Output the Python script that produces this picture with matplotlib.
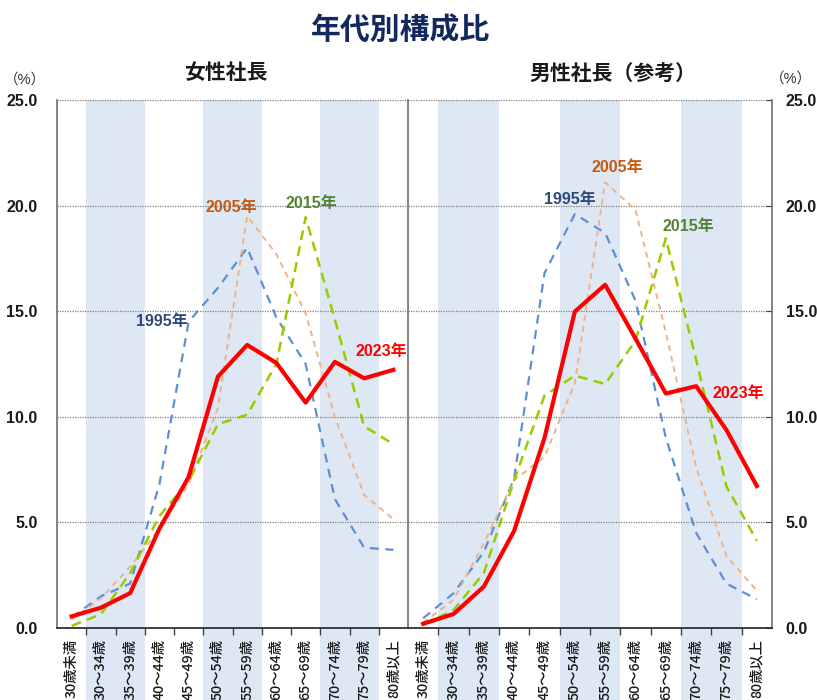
import numpy as np
import matplotlib
matplotlib.use("Agg")
import matplotlib.pyplot as plt

plt.rcParams['font.family'] = ['Liberation Sans', 'Noto Sans CJK JP', 'DejaVu Sans']

# ==========================
# データ
# ==========================
age_labels = ["30歳未満", "30～34歳", "35～39歳", "40～44歳", "45～49歳", "50～54歳",
              "55～59歳", "60～64歳", "65～69歳", "70～74歳", "75～79歳", "80歳以上"]

# 女性社長
f_1995 = [0.5, 1.5, 2.1, 6.8, 14.5, 16.1, 18.0, 14.7, 12.5, 6.1, 3.8, 3.7]
f_2005 = [0.4, 1.4, 2.9, 4.7, 6.8, 10.4, 19.5, 17.7, 14.9, 10.0, 6.3, 5.15]
f_2015 = [0.1, 0.65, 2.6, 5.3, 6.95, 9.65, 10.1, 12.5, 19.45, 14.6, 9.55, 8.7]
f_2023 = [0.55, 0.96, 1.65, 4.7, 7.15, 11.9, 13.4, 12.55, 10.67, 12.6, 11.82, 12.22]

# 男性社長（参考）
m_1995 = [0.46, 1.64, 3.6, 7.1, 16.8, 19.6, 18.7, 15.5, 9.0, 4.5, 2.1, 1.36]
m_2005 = [0.25, 1.33, 4.0, 7.0, 8.1, 11.6, 21.1, 19.8, 14.0, 7.6, 3.4, 1.77]
m_2015 = [0.14, 0.85, 2.6, 7.0, 11.0, 11.95, 11.55, 13.6, 18.45, 12.7, 6.7, 4.13]
m_2023 = [0.2, 0.66, 1.96, 4.6, 9.0, 14.98, 16.25, 13.7, 11.1, 11.45, 9.37, 6.72]

years = ["1995年", "2005年", "2015年", "2023年"]
line_colors = ["#5F8ED6", "#F4B183", "#99CC00", "#FF0000"]
label_colors = ["#2F4A7A", "#C55A11", "#548235", "#FF0000"]

# ラベル位置 (データ座標)
f_label_pos = [(3.1, 14.5), (5.45, 19.9), (8.2, 20.1), (10.6, 13.1)]
m_label_pos = [(4.85, 20.3), (6.4, 21.8), (8.75, 19.0), (10.4, 11.1)]

shade_idx = [1, 2, 5, 6, 9, 10]

# ==========================
# 描画
# ==========================
fig = plt.figure(figsize=(8.17, 7.0), dpi=100)
ax_f = fig.add_axes([0.0698, 0.1029, 0.4296, 0.7543])
ax_m = fig.add_axes([0.4994, 0.1029, 0.4455, 0.7543])

x = np.arange(len(age_labels))


def draw_panel(ax, series, label_pos, side):
    # 帯は目盛ラベルの下まで伸ばす
    for i in shade_idx:
        ax.axvspan(i - 0.5, i + 0.5, ymin=-0.15, ymax=1, color="#DEE8F4",
                   lw=0, zorder=0, clip_on=False)
    for yv in [5, 10, 15, 20, 25]:
        ax.axhline(yv, color="#808080", lw=0.9, ls=(0, (1, 1)), zorder=1)

    styles = [dict(lw=1.6, ls=(0, (4, 3))),
              dict(lw=1.4, ls=(0, (3, 2.5))),
              dict(lw=1.8, ls=(0, (4, 2.5))),
              dict(lw=3.0, ls="-")]
    for k, s in enumerate(series):
        ax.plot(x, s, color=line_colors[k], zorder=3 + k, **styles[k])
    for k, (lx, ly) in enumerate(label_pos):
        ax.text(lx, ly, years[k], color=label_colors[k], fontsize=11.5,
                fontweight="bold", ha="center", va="center", zorder=10)

    ax.set_xlim(-0.5, 11.5)
    ax.set_ylim(0, 25)
    ax.set_xticks(x)
    ax.set_xticklabels(age_labels, rotation=90, fontsize=10.3, va="top",
                       color="#1A1A1A", family="Noto Sans CJK JP",
                       fontweight="medium")
    ax.set_xticks(np.arange(0.5, 11, 1), minor=True)
    ax.tick_params(axis="x", which="major", length=0, pad=8)
    ax.tick_params(axis="x", which="minor", length=5, width=1, color="#404040")
    ax.set_yticks([0, 5, 10, 15, 20, 25])
    ax.set_yticklabels(["0.0", "5.0", "10.0", "15.0", "20.0", "25.0"],
                       fontsize=11.5, fontweight="bold", color="#1A1A1A")
    ax.spines["top"].set_visible(False)
    ax.spines["bottom"].set_color("#202020")
    ax.spines["bottom"].set_linewidth(1.2)

    if side == "left":
        ax.spines["right"].set_visible(False)
        ax.spines["left"].set_color("#707070")
        ax.spines["left"].set_linewidth(1.2)
        ax.tick_params(axis="y", length=0, pad=14)
    else:
        ax.spines["left"].set_color("#707070")
        ax.spines["left"].set_linewidth(1.2)
        ax.spines["right"].set_color("#707070")
        ax.spines["right"].set_linewidth(1.2)
        ax.yaxis.tick_right()
        ax.tick_params(axis="y", length=4, direction="in", pad=10, color="#404040")


draw_panel(ax_f, [f_1995, f_2005, f_2015, f_2023], f_label_pos, "left")
draw_panel(ax_m, [m_1995, m_2005, m_2015, m_2023], m_label_pos, "right")

fig.text(0.49, 0.956, "年代別構成比", fontsize=21.5, fontweight="bold",
         color="#13295E", ha="center", va="center")
fig.text(0.276, 0.895, "女性社長", fontsize=15, fontweight="bold",
         ha="center", va="center", color="#1A1A1A")
fig.text(0.75, 0.895, "男性社長（参考）", fontsize=15, fontweight="bold",
         ha="center", va="center", color="#1A1A1A")
fig.text(0.03, 0.886, "（%）", fontsize=10.5, ha="center", va="center",
         color="#333333")
fig.text(0.968, 0.888, "（%）", fontsize=10.5, ha="center", va="center",
         color="#333333")

fig.savefig("out.png", dpi=100)
